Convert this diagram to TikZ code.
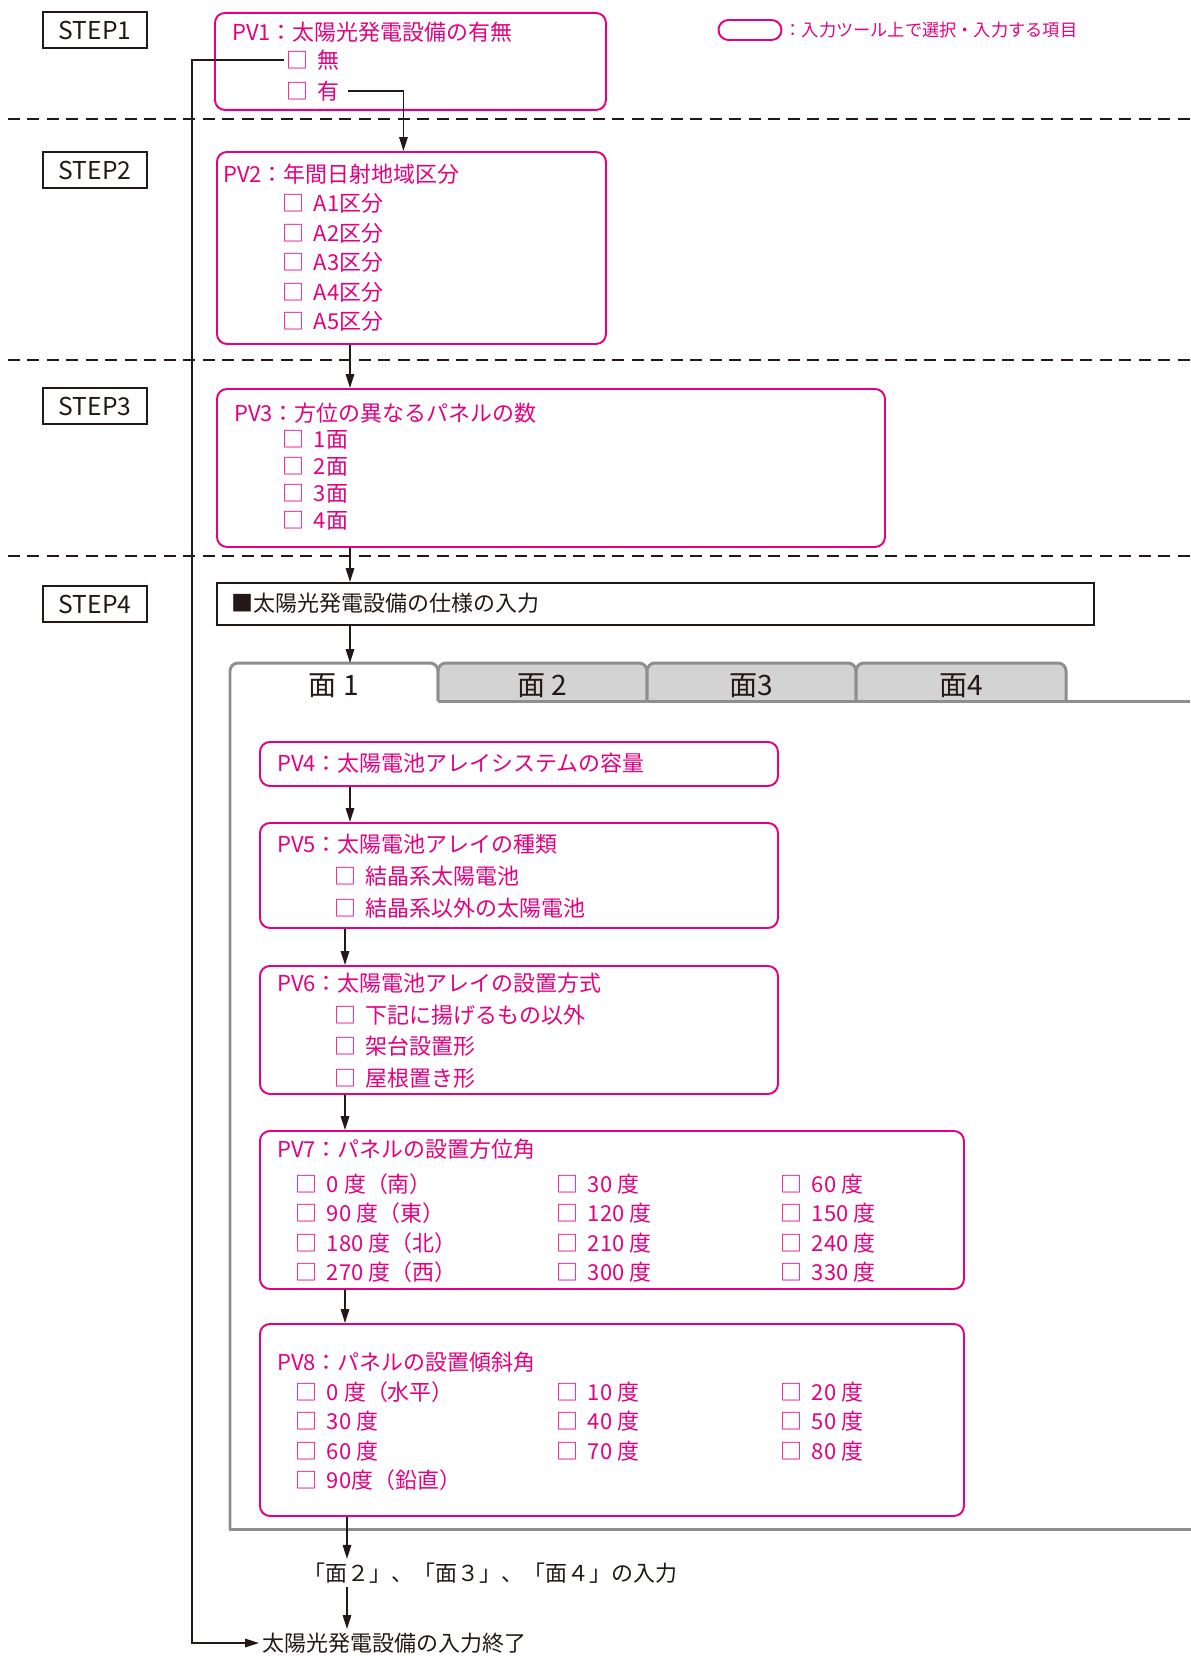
\documentclass[tikz,border=0pt]{standalone}
\usepackage{fontspec}
\setmainfont{Noto Sans CJK JP}
\usepackage{xcolor}
\usepackage{tikz}
\usetikzlibrary{calc, arrows.meta}

\definecolor{pvpink}{HTML}{E4007F}
\definecolor{ink}{HTML}{231815}
\definecolor{tabgray}{HTML}{8E8E90}
\definecolor{tabfill}{HTML}{D3D3D4}
\newcommand{\pvfont}{\fontsize{12.5pt}{15pt}\selectfont}
\newcommand{\tabfont}{\fontsize{16pt}{18pt}\selectfont}
\newcommand{\chk}{□\hspace{0.45em}}

\tikzset{
	pvbox/.style 2 args={draw=pvpink, line width=1.1pt, rounded corners=0.2cm, minimum width=#1*0.02cm, minimum height=#2*0.02cm, anchor=north west, inner sep=0pt},
	stepbox/.style={draw=ink, line width=1.1pt, minimum width=104*0.02cm, minimum height=36*0.02cm, text=ink, inner sep=0pt, font=\fontsize{14pt}{16pt}\selectfont},
	pvtext/.style={anchor=west, text=pvpink, font=\pvfont, inner sep=1pt},
	inktext/.style={anchor=west, text=ink, font=\pvfont, inner sep=2pt},
	flow/.style={draw=ink, line width=0.9pt, -{Triangle[length=0.28cm, width=0.17cm]}},
	sepline/.style={draw=ink, line width=1.1pt, dash pattern=on 0.24cm off 0.15cm},
	tabline/.style={draw=tabgray, line width=1.7pt}
}

\begin{document}
\begin{tikzpicture}[x=0.02cm, y=-0.02cm]
	\useasboundingbox (0,0) rectangle (1190,1656);

	\coordinate (trunkA) at (350,0);
	\coordinate (trunkB) at (345,0);
	\coordinate (trunkC) at (347,0);
	\coordinate (bypass) at (192,900);
	\coordinate (tab1top) at (334,663);

	\draw[sepline] (8,119) -- (1190,119);
	\draw[sepline] (8,360) -- (1190,360);
	\draw[sepline] (8,556) -- (1190,556);

	\node[stepbox] (step1) at (95,30) {STEP1};
	\node[stepbox] (step2) at (95,170) {STEP2};
	\node[stepbox] (step3) at (95,406) {STEP3};
	\node[stepbox] (step4) at (95,604) {STEP4};

	\node[draw=pvpink, line width=1.1pt, rounded corners=0.2cm, minimum width=63*0.02cm, minimum height=20*0.02cm, inner sep=0pt] (legend) at (750,30) {};
	\node[anchor=west, text=pvpink, font=\fontsize{9.8pt}{11pt}\selectfont, inner sep=1pt] (legendtxt) at (legend.east) {：入力ツール上で選択・入力する項目};

	\node[pvbox={391}{97}] (pv1) at (214,12) {};
	\node[pvtext] (pv1t) at (230,32) {PV1：太陽光発電設備の有無};
	\node[pvtext] (pv1no) at (284,60) {\chk 無};
	\node[pvtext] (pv1yes) at (284,91) {\chk 有};

	\node[pvbox={389}{192}] (pv2) at (216,151) {};
	\node[pvtext] (pv2t) at (221,174) {PV2：年間日射地域区分};
	\foreach \lab [count=\i] in {A1,A2,A3,A4,A5}
		\node[pvtext] (pv2i\i) at (280,174+29.5*\i) {\chk\lab 区分};

	\node[pvbox={668}{158}] (pv3) at (216,388) {};
	\node[pvtext] (pv3t) at (232,413) {PV3：方位の異なるパネルの数};
	\foreach \i in {1,...,4}
		\node[pvtext] (pv3i\i) at (280,413+27*\i) {\chk\i 面};

	\node[draw=ink, line width=1.1pt, minimum width=877*0.02cm, minimum height=42*0.02cm, anchor=north west, inner sep=0pt] (spec) at (216,582) {};
	\node[inktext] (spect) at (228,603) {■太陽光発電設備の仕様の入力};

	\foreach \xa/\xb/\lab [count=\i from 2] in {438/647/面 2, 647/856/面3, 856/1066/面4} {
		\draw[tabline, fill=tabfill, rounded corners=0.16cm] (\xa,701) -- (\xa,663) -- (\xb,663) -- (\xb,701);
		\node[font=\tabfont, text=ink] (tab\i) at ({(\xa+\xb)/2},686) {\lab};
	}
	\draw[tabline, rounded corners=0.16cm] (438,701) -- (438,663) -- (230,663) -- (230,1529);
	\draw[tabline, line cap=rect] (230,1529) -- (1190,1529);
	\draw[tabline] (438,701) -- (1190,701);
	\node[font=\tabfont, text=ink] (tab1) at (334,686) {面 1};

	\node[pvbox={518}{44}] (pv4) at (259,741) {};
	\node[pvtext] (pv4t) at (275,763) {PV4：太陽電池アレイシステムの容量};

	\node[pvbox={518}{105}] (pv5) at (259,822) {};
	\node[pvtext] (pv5t) at (275,844) {PV5：太陽電池アレイの種類};
	\node[pvtext] (pv5a) at (332,876) {\chk 結晶系太陽電池};
	\node[pvtext] (pv5b) at (332,908) {\chk 結晶系以外の太陽電池};

	\node[pvbox={518}{128}] (pv6) at (259,965) {};
	\node[pvtext] (pv6t) at (275,983) {PV6：太陽電池アレイの設置方式};
	\node[pvtext] (pv6a) at (332,1015) {\chk 下記に揚げるもの以外};
	\node[pvtext] (pv6b) at (332,1046) {\chk 架台設置形};
	\node[pvtext] (pv6c) at (332,1078) {\chk 屋根置き形};

	\node[pvbox={704}{158}] (pv7) at (259,1130) {};
	\node[pvtext] (pv7t) at (275,1149) {PV7：パネルの設置方位角};
	\foreach \a/\b/\c [count=\r] in {0 度（南）/30 度/60 度, 90 度（東）/120 度/150 度, 180 度（北）/210 度/240 度, 270 度（西）/300 度/330 度} {
		\node[pvtext] (pv7r\r a) at (293,1155+29.3*\r) {\chk\a};
		\node[pvtext] (pv7r\r b) at (554,1155+29.3*\r) {\chk\b};
		\node[pvtext] (pv7r\r c) at (778,1155+29.3*\r) {\chk\c};
	}

	\node[pvbox={704}{192}] (pv8) at (259,1323) {};
	\node[pvtext] (pv8t) at (275,1362) {PV8：パネルの設置傾斜角};
	\foreach \a/\b/\c [count=\r] in {0 度（水平）/10 度/20 度, 30 度/40 度/50 度, 60 度/70 度/80 度} {
		\node[pvtext] (pv8r\r a) at (293,1363+29.3*\r) {\chk\a};
		\node[pvtext] (pv8r\r b) at (554,1363+29.3*\r) {\chk\b};
		\node[pvtext] (pv8r\r c) at (778,1363+29.3*\r) {\chk\c};
	}
	\node[pvtext] (pv8r4a) at (293,1480) {\chk 90度（鉛直）};

	\node[inktext] (more) at (300,1573) {「面２」、「面３」、「面４」の入力};
	\node[inktext] (finish) at (259,1643) {太陽光発電設備の入力終了};

	\draw[flow] ([xshift=0.12cm]pv1yes.east) -| ($(pv2.north)+(-8,0)$);
	\draw[flow] (pv1no.west) -| (bypass) |- (finish.west);
	\draw[flow] (pv2.south -| trunkA) -- (pv3.north -| trunkA);
	\draw[flow] (pv3.south -| trunkA) -- (spec.north -| trunkA);
	\draw[flow] (spec.south -| trunkA) -- (tab1top -| trunkA);
	\draw[flow] (pv4.south -| trunkA) -- (pv5.north -| trunkA);
	\draw[flow] (pv5.south -| trunkB) -- (pv6.north -| trunkB);
	\draw[flow] (pv6.south -| trunkB) -- (pv7.north -| trunkB);
	\draw[flow] (pv7.south -| trunkB) -- (pv8.north -| trunkB);
	\draw[flow] (pv8.south -| trunkC) -- (more.north -| trunkC);
	\draw[flow] (more.south -| trunkC) -- (finish.north -| trunkC);
\end{tikzpicture}
\end{document}
